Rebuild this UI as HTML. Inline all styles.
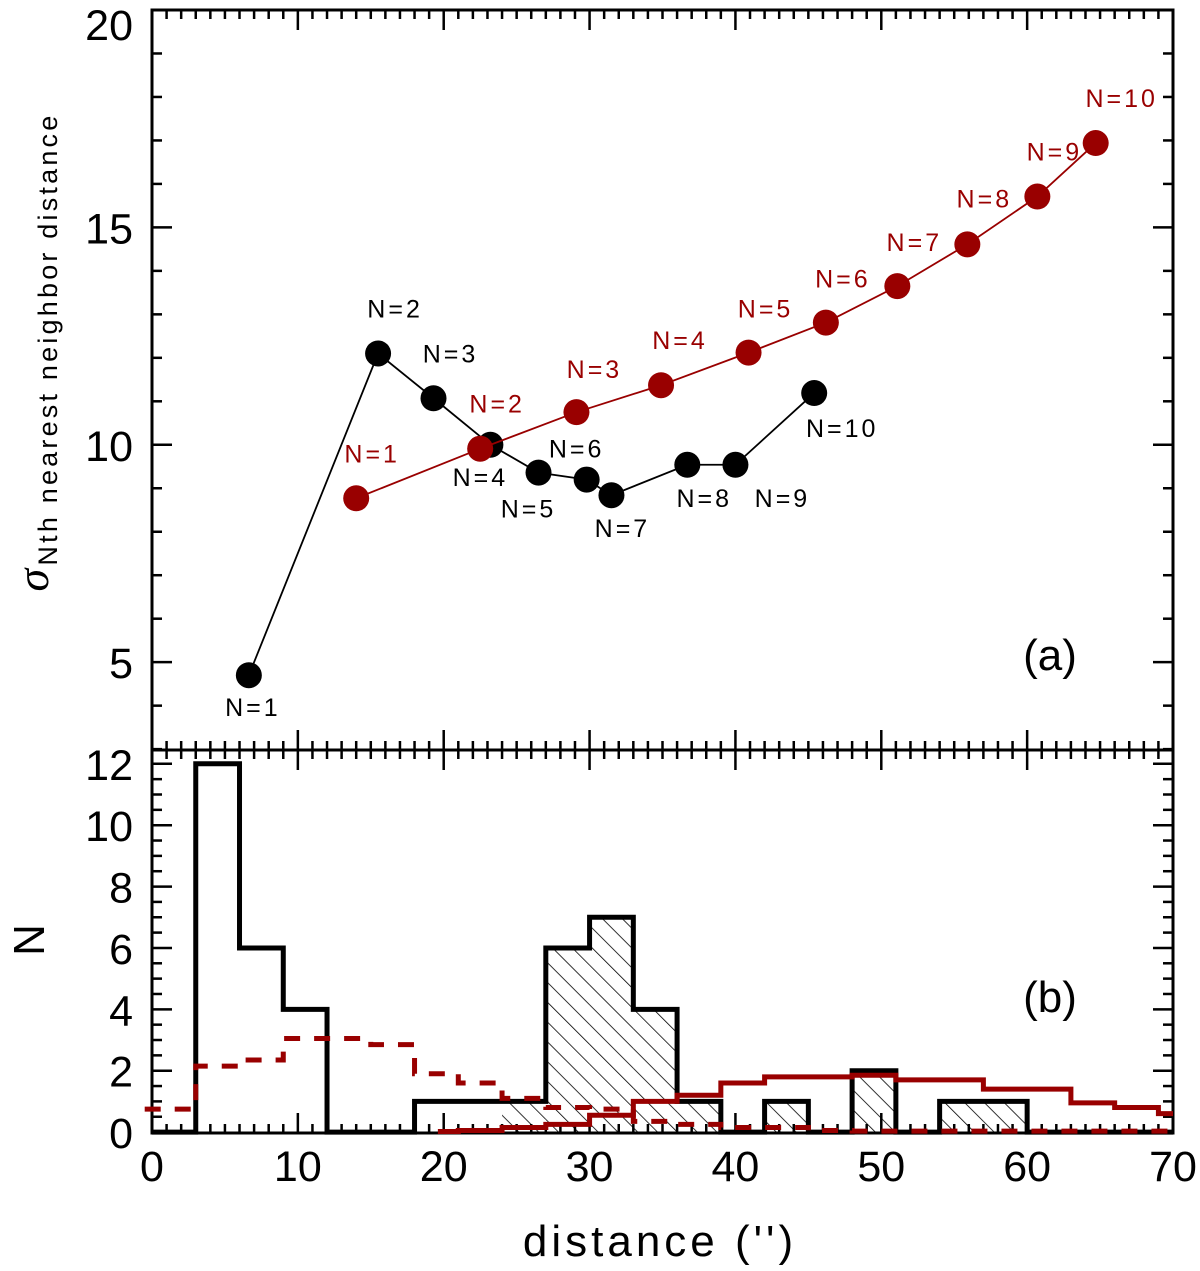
<!DOCTYPE html>
<html><head><meta charset="utf-8">
<style>
html,body{margin:0;padding:0;background:#fff;}
svg{display:block;font-family:"Liberation Sans",sans-serif;}
</style></head>
<body>
<svg id="chart" width="1200" height="1271" viewBox="0 0 1200 1271" xmlns="http://www.w3.org/2000/svg">
<defs>
<pattern id="hatch" patternUnits="userSpaceOnUse" width="14" height="14" patternTransform="rotate(-45)">
<line x1="0" y1="0" x2="0" y2="14" stroke="#000" stroke-width="1.6"/>
</pattern>
</defs>
<g id="panelA"></g>
<g id="panelB"></g>
</svg>
<script>
// ---- data: panel (a)
const blackX = [6.64, 15.5, 19.3, 23.2, 26.5, 29.8, 31.5, 36.7, 40.0, 45.4];
const blackY = [4.70, 12.1, 11.07, 10.0, 9.36, 9.2, 8.84, 9.54, 9.54, 11.19];
const redX = [14.0, 22.5, 29.1, 34.9, 40.9, 46.2, 51.1, 55.9, 60.7, 64.7];
const redY = [8.77, 9.91, 10.75, 11.37, 12.12, 12.81, 13.65, 14.61, 15.71, 16.94];
const pointLabels = ["N=1","N=2","N=3","N=4","N=5","N=6","N=7","N=8","N=9","N=10"];
// ---- data: panel (b) histograms, bin width 3 starting at 0
const binStarts = [0,3,6,9,12,15,18,21,24,27,30,33,36,39,42,45,48,51,54,57,60,63,66,69];
const blackCounts = [0,12,6,4,0,0,1,1,1,6,7,4,1,0,1,0,2,0,1,1,0,0,0,0];
const redDashed = [0.75,2.15,2.35,3.05,3.05,2.85,1.9,1.6,1.1,0.8,0.75,0.35,0.25,0.15,0.15,0.05,0.03,0.03,0.03,0.03,0.03,0.03,0.03,0.03];
const redSolid = [0,0,0,0,0,0,0.02,0.05,0.15,0.25,0.55,1.0,1.2,1.6,1.8,1.8,1.85,1.7,1.7,1.4,1.4,0.95,0.8,0.6];
const xTicks = [0,10,20,30,40,50,60,70];
const yTicksA = [5,10,15,20];
const yTicksB = [0,2,4,6,8,10,12];

const NS="http://www.w3.org/2000/svg";
const L=152,R=1173,TA=10,BA=750,TB=750,BB=1133;
const XMIN=0,XMAX=70,YA0=2.98,YA1=20,YB0=-0.03,YB1=12.45;
const RED="#990000";
const sx=v=>L+(v-XMIN)/(XMAX-XMIN)*(R-L);
const syA=v=>BA-(v-YA0)/(YA1-YA0)*(BA-TA);
const syB=v=>BB-(v-YB0)/(YB1-YB0)*(BB-TB);
function mk(parent,tag,attrs){const e=document.createElementNS(NS,tag);for(const k in attrs)e.setAttribute(k,attrs[k]);parent.appendChild(e);return e;}
const gA=document.getElementById('panelA'), gB=document.getElementById('panelB');

let f=mk(gA,'rect',{x:L,y:TA,width:R-L,height:BA-TA,fill:'none',stroke:'#000','stroke-width':3});


f=mk(gB,'rect',{x:L,y:TB,width:R-L,height:BB-TB,fill:'none',stroke:'#000','stroke-width':3});



for(let v=0;v<=70;v++){
  const maj=v%10===0, len=maj?20:9, x=sx(v);
  [[gA,TA,1],[gA,BA,-1],[gB,TB,1],[gB,BB,-1]].forEach(([g,y,d])=>{
    const t=mk(g,'line',{x1:x,x2:x,y1:y,y2:y+d*len,stroke:'#000','stroke-width':2.5});
    
    
  });
}
for(let v=3;v<=20;v++){
  const maj=v%5===0,len=maj?20:10,y=syA(v);
  [[L,1],[R,-1]].forEach(([x,d])=>{
    const t=mk(gA,'line',{x1:x,x2:x+d*len,y1:y,y2:y,stroke:'#000','stroke-width':2.5});
    
    
  });
}
for(let v=0;v<=12;v+=0.5){
  const maj=Math.abs(v%2)<1e-9,len=maj?20:10,y=syB(v);
  [[L,1],[R,-1]].forEach(([x,d])=>{
    const t=mk(gB,'line',{x1:x,x2:x+d*len,y1:y,y2:y,stroke:'#000','stroke-width':2.5});
    
    
  });
}
xTicks.forEach(v=>{
  const t=mk(gB,'text',{x:sx(v),y:1181,'font-size':43,'text-anchor':'middle',fill:'#000'});
  t.textContent=v;
  
  
});
yTicksA.forEach(v=>{
  const t=mk(gA,'text',{x:133,y:Math.max(40,syA(v)+16),'font-size':43,'text-anchor':'end',fill:'#000'});
  t.textContent=v;
  
  
});
yTicksB.forEach(v=>{
  const t=mk(gB,'text',{x:133,y:syB(v)+16,'font-size':43,'text-anchor':'end',fill:'#000'});
  t.textContent=v;
  
  
});
let t=mk(gB,'text',{x:660,y:1256,'font-size':44,'text-anchor':'middle',fill:'#000','letter-spacing':4});
t.textContent="distance ('')";


t=mk(gB,'text',{x:0,y:0,'font-size':44,'text-anchor':'middle',fill:'#000',transform:'translate(44,940) rotate(-90)'});
t.textContent="N";


t=mk(gA,'text',{x:0,y:0,'font-size':27,'text-anchor':'middle',fill:'#000','letter-spacing':3.2,transform:'translate(48,352) rotate(-90)'});
const ts1=mk(t,'tspan',{'font-size':46,'font-style':'italic','font-family':'Liberation Serif, serif'});
ts1.textContent='σ';
const ts2=mk(t,'tspan',{dy:9});
ts2.textContent='Nth nearest neighbor distance';


t=mk(gA,'text',{x:1050,y:670,'font-size':44,'text-anchor':'middle',fill:'#000'});
t.textContent='(a)';


t=mk(gB,'text',{x:1050,y:1012,'font-size':44,'text-anchor':'middle',fill:'#000'});
t.textContent='(b)';



function series(xs,ys,col,name,offs){
  const pl=mk(gA,'polyline',{points:xs.map((x,i)=>sx(x)+','+syA(ys[i])).join(' '),fill:'none',stroke:col,'stroke-width':1.8});
  
  
  xs.forEach((x,i)=>{
    const c=mk(gA,'circle',{cx:sx(x),cy:syA(ys[i]),r:13,fill:col});
    
    
    const lb=mk(gA,'text',{x:sx(x)+offs[i][0],y:syA(ys[i])+offs[i][1],'font-size':25,'text-anchor':'middle',fill:col,'letter-spacing':3});
    lb.textContent=pointLabels[i];
    
    
  });
}
const blackOff=[[4,41],[17,-36],[17,-36],[-10,41],[-10,45],[-10,-22],[11,42],[17,42],[47,42],[28,44]];
const redOff=[[16,-36],[17,-36],[18,-34],[19,-36],[17,-35],[17,-35],[17,-35],[17,-37],[17,-36],[26,-36]];
series(blackX,blackY,'#000','black-series',blackOff);
series(redX,redY,RED,'red-series',redOff);

function stepPath(vals,start,x0start){
  let d='';
  for(let i=start;i<vals.length;i++){
    let x0=sx(binStarts[i]);
    if(i===start && x0start!==undefined) x0=sx(x0start);
    const x1=sx(Math.min(binStarts[i]+3,70)),y=syB(vals[i]);
    d+=(i===start?'M':'L')+x0+','+y+'L'+x1+','+y;
  }
  return d;
}
for(let i=0;i<binStarts.length;i++){
  if(binStarts[i]>=24&&binStarts[i]<60&&blackCounts[i]>0){
    const r=mk(gB,'rect',{x:sx(binStarts[i]),y:syB(blackCounts[i]),width:sx(binStarts[i]+3)-sx(binStarts[i]),height:syB(0)-syB(blackCounts[i]),fill:'url(#hatch)'});
    
    
  }
}
let p=mk(gB,'path',{d:stepPath(blackCounts,0),fill:'none',stroke:'#000','stroke-width':5});


p=mk(gB,'path',{d:stepPath(redDashed,0,-0.5),fill:'none',stroke:RED,'stroke-width':5,'stroke-dasharray':'16,14'});


p=mk(gB,'path',{d:stepPath(redSolid,6,19.6),fill:'none',stroke:RED,'stroke-width':5});


</script>
</body></html>
